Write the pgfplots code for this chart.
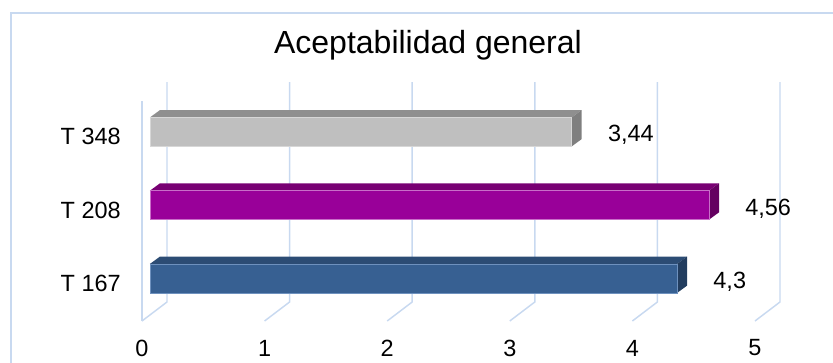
\documentclass[border=0pt]{standalone}
\usepackage{pgfplots}
\pgfplotsset{compat=1.18}
\usepackage{fontspec}
\setmainfont{Liberation Sans}

\definecolor{gridblue}{RGB}{200,217,240}
\definecolor{grayF}{RGB}{191,191,191}
\definecolor{grayT}{RGB}{143,143,143}
\definecolor{grayS}{RGB}{127,127,127}
\definecolor{grayE}{RGB}{215,215,215}
\definecolor{magF}{RGB}{153,0,153}
\definecolor{magT}{RGB}{120,0,115}
\definecolor{magS}{RGB}{100,0,96}
\definecolor{magE}{RGB}{200,110,200}
\definecolor{blueF}{RGB}{55,96,146}
\definecolor{blueT}{RGB}{44,76,116}
\definecolor{blueS}{RGB}{34,61,95}
\definecolor{blueE}{RGB}{110,145,190}

% depth of the bar solids (x units, y units) and half bar width (y units)
\def\dX{0.0816}
\def\dY{0.100}
\def\halfw{0.198}

% one solid bar: value, category position, front, top, side, edge colours
\newcommand{\solidbar}[6]{%
  \pgfmathsetmacro\bv{#1}%
  \pgfmathsetmacro\bvd{#1+\dX}%
  \pgfmathsetmacro\blo{#2-\halfw}%
  \pgfmathsetmacro\bhi{#2+\halfw}%
  \pgfmathsetmacro\bhid{#2+\halfw+\dY}%
  \pgfmathsetmacro\blod{#2-\halfw+\dY}%
  \addplot[fill=#4, draw=none, forget plot]
    coordinates {(0,\bhi) (\bv,\bhi) (\bvd,\bhid) (\dX,\bhid) (0,\bhi)};
  \addplot[fill=#5, draw=none, forget plot]
    coordinates {(\bv,\blo) (\bv,\bhi) (\bvd,\bhid) (\bvd,\blod) (\bv,\blo)};
  \addplot[xbar, bar width=0.396, bar shift=0pt, fill=#3, draw=#6,
    line width=0.4pt, point meta=x, nodes near coords, forget plot]
    coordinates {(#1,#2)};
}

\begin{document}
\begin{tikzpicture}
\useasboundingbox (0,0) rectangle (624.75pt,272.25pt);
% chart area frame
\draw[gridblue, line width=1pt] (8.25pt,-1pt) -- (8.25pt,262.5pt) -- (626pt,262.5pt);
\node[anchor=base, font=\fontsize{24}{28}\selectfont] at (321pt,231.75pt) {Aceptabilidad general};

\begin{axis}[
  at={(112.5pt,36pt)}, anchor=south west,
  scale only axis, width=459.75pt, height=164.81pt,
  xmin=0, xmax=5, ymin=-0.5, ymax=2.5,
  axis line style={draw=none},
  clip=false,
  xtick={0,1,2,3,4,5}, ytick={0,1,2},
  yticklabels={T 167, T 208, T 348},
  major tick length=0pt,
  /pgf/number format/assume math mode=true,
  /pgf/number format/.cd, use comma, fixed, precision=2, /pgfplots/.cd,
  tick label style={font=\fontsize{17.6}{20}\selectfont, inner sep=0pt},
  xticklabel style={anchor=center, xshift=-6pt, yshift=-24.75pt},
  yticklabel style={anchor=east, xshift=-21.75pt, yshift=-3.75pt},
  nodes near coords style={font=\fontsize{17.6}{20}\selectfont, inner sep=0pt,
    anchor=base west, xshift=27pt, yshift=-7.5pt, text=black},
]
% walls: back vertical grid lines, floor diagonals, front left edge
\addplot[gridblue, line width=1.1pt, forget plot] coordinates {(-0.0653,2.418) (-0.0653,-0.582)};
\addplot[gridblue, line width=1.1pt, forget plot] coordinates {(0.1387,2.6775) (0.1387,-0.3225) (-0.0653,-0.582)};
\addplot[gridblue, line width=1.1pt, forget plot] coordinates {(1.1387,2.6775) (1.1387,-0.3225) (0.9347,-0.582)};
\addplot[gridblue, line width=1.1pt, forget plot] coordinates {(2.1387,2.6775) (2.1387,-0.3225) (1.9347,-0.582)};
\addplot[gridblue, line width=1.1pt, forget plot] coordinates {(3.1387,2.6775) (3.1387,-0.3225) (2.9347,-0.582)};
\addplot[gridblue, line width=1.1pt, forget plot] coordinates {(4.1387,2.6775) (4.1387,-0.3225) (3.9347,-0.582)};
\addplot[gridblue, line width=1.1pt, forget plot] coordinates {(5.1387,2.6775) (5.1387,-0.3225) (4.9347,-0.582)};

% bars
\solidbar{4.30}{0}{blueF}{blueT}{blueS}{blueE}
\solidbar{4.56}{1}{magF}{magT}{magS}{magE}
\solidbar{3.44}{2}{grayF}{grayT}{grayS}{grayE}
\end{axis}
\end{tikzpicture}
\end{document}
